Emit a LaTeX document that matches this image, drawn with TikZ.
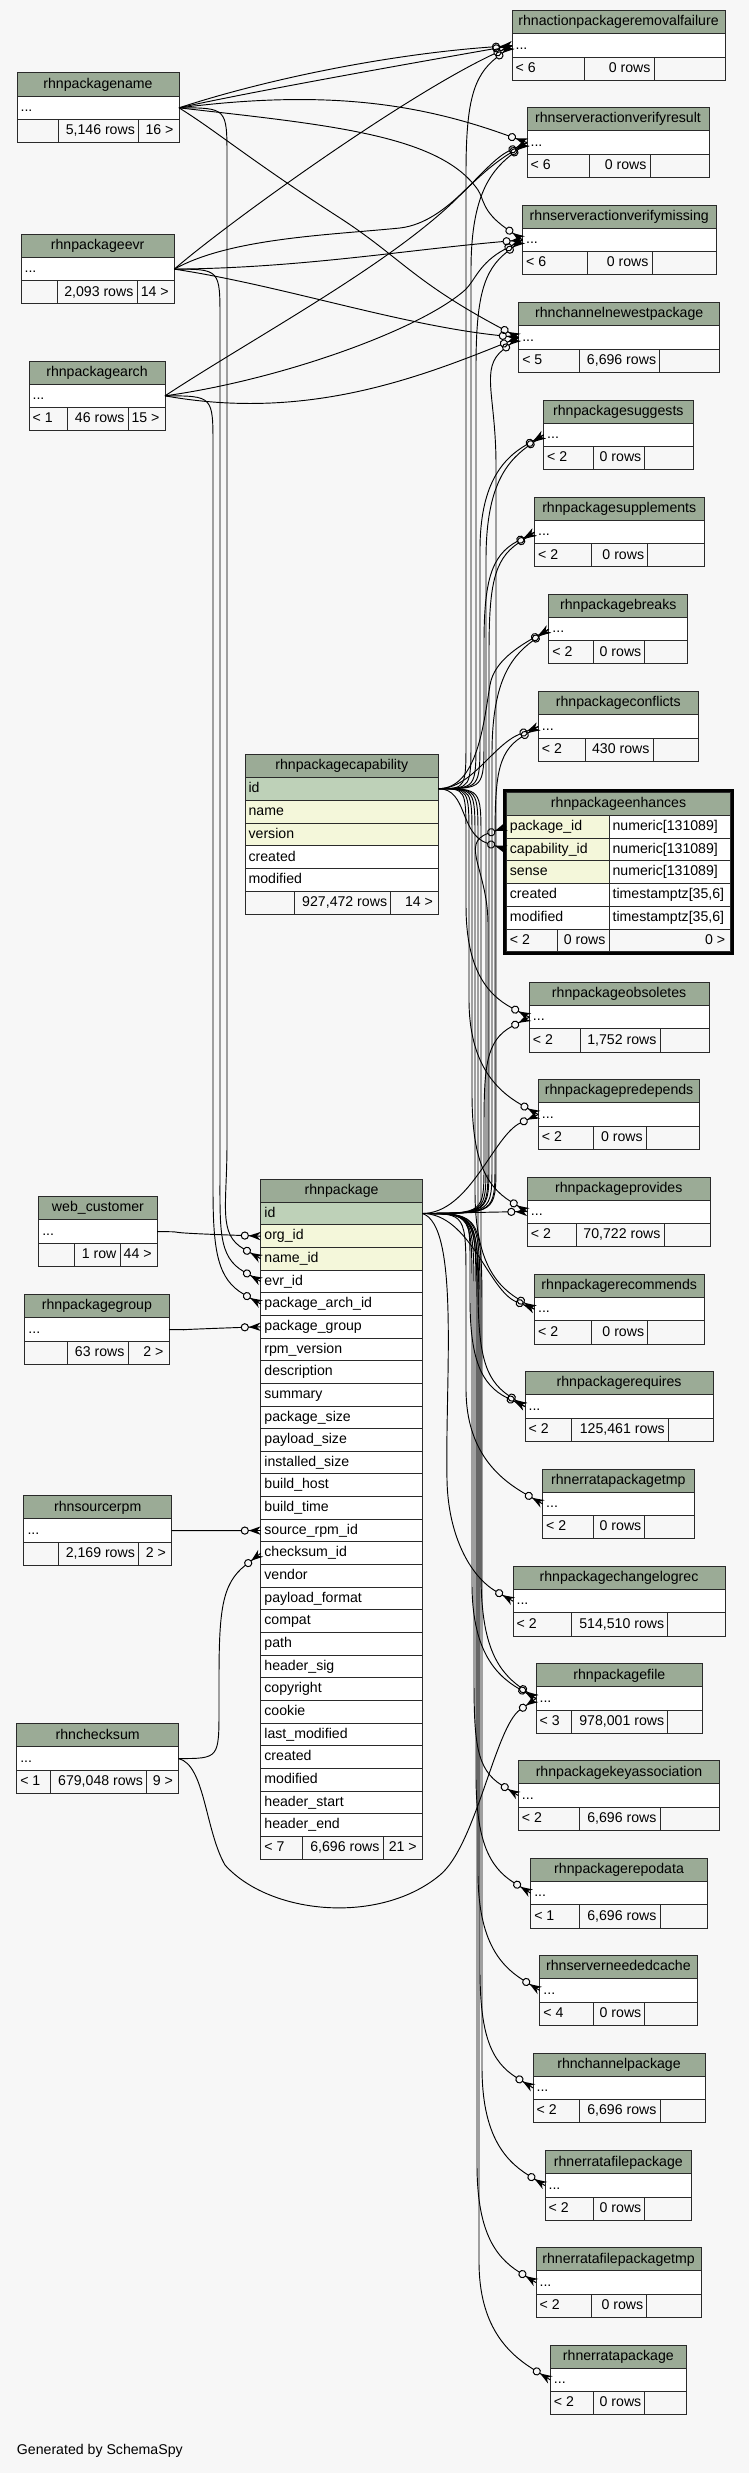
\documentclass[tikz,border=0pt]{standalone}
\usepackage{fontspec}
\setmainfont{Liberation Sans}
\definecolor{bgc}{HTML}{F7F7F7}
\definecolor{hdc}{HTML}{9BAB96}
\definecolor{pkc}{HTML}{BED1B8}
\definecolor{ixc}{HTML}{F4F7DA}
\definecolor{ftc}{HTML}{F7F7F7}
\definecolor{lnc}{HTML}{2A2A2A}
\tikzset{
  tx/.style={font=\fontsize{10.6pt}{12pt}\selectfont, inner sep=0pt, text height=7.7pt, text depth=2.2pt},
  cellbox/.style={draw=lnc, line width=0.75pt, inner sep=0pt, outer sep=0pt, anchor=north west},
  fk/.style={draw=black, line width=0.7pt},
}
\def\fh{23.23}
% generic cell (left aligned text)
\newcommand\cell[7]{%
  \node[cellbox, fill=#6, minimum width={(#4-#2)*0.75pt}, minimum height={(#5-#3)*0.75pt}] (#1) at (#2,#3) {};
  \node[tx, anchor=west] (#1-t) at ([xshift=2.5pt]#1.west) {#7};}
% header cell (centered text)
\newcommand\hcell[6]{%
  \node[cellbox, fill=hdc, minimum width={(#4-#2)*0.75pt}, minimum height={(#5-#3)*0.75pt}] (#1) at (#2,#3) {};
  \node[tx] (#1-t) at (#1.center) {#6};}
% footer row
\newcommand\tabfoot[9]{%
  \node[cellbox, fill=ftc, minimum width={(#5-#2)*0.75pt}, minimum height={\fh*0.75pt}] (#1-f1) at (#2,#3) {};
  \node[cellbox, fill=ftc, minimum width={(#6-#5)*0.75pt}, minimum height={\fh*0.75pt}] (#1-f2) at (#5,#3) {};
  \node[cellbox, fill=ftc, minimum width={(#4-#6)*0.75pt}, minimum height={\fh*0.75pt}] (#1-f3) at (#6,#3) {};
  \node[tx, anchor=west] (#1-f1t) at ([xshift=2.5pt]#1-f1.west) {#7};
  \node[tx, anchor=east] (#1-f2t) at ([xshift=-2.5pt]#1-f2.east) {#8};
  \node[tx, anchor=east] (#1-f3t) at ([xshift=-4pt]#1-f3.east) {#9};}
\newcommand\tabcore[5]{%
  \pgfmathsetmacro\ya{#3+23.23}\pgfmathsetmacro\yb{#3+46.46}%
  \hcell{#1-h}{#2}{#3}{#4}{\ya}{#5}%
  \cell{#1}{#2}{\ya}{#4}{\yb}{white}{...}}
\newcommand\rtab[9]{%
  \tabcore{#1}{#2}{#3}{#4}{#5}\pgfmathsetmacro\yft{#3+46.46}%
  \tabfoot{#1}{#2}{\yft}{#4}{#6}{#7}{#8}{#9}{}}
\newcommand\ltab[9]{%
  \tabcore{#1}{#2}{#3}{#4}{#5}\pgfmathsetmacro\yft{#3+46.46}%
  \tabfoot{#1}{#2}{\yft}{#4}{#6}{#7}{}{#8}{#9}}
% crow's foot with open circle (zero or many)
\newcommand\crow[3]{%
  \begin{scope}[shift={(#2)}, rotate=#3]
    \coordinate (#1-t) at (-19.6,0);
    \coordinate (#1-c) at (-49.6,0);
    \coordinate (#1-f) at (-119.6,0);
    \draw[line width=0.75pt] (-16,0) circle[radius=2.7pt];
    \fill (-12,0) -- (0,-4.3) -- (-4,0) -- (0,4.3) -- cycle;
    \draw[line width=0.75pt] (-12.4,0) -- (0,0);
  \end{scope}}
% edge running along a vertical corridor
\newcommand\fkedge[8][50]{%
  \crow{#8}{#5}{#7}%
  \pgfmathsetmacro\bs{sign(#6-#3)}%
  \pgfmathsetmacro\be{60+110*abs(sin(#7))}%
  \pgfmathsetmacro\bya{#3+\bs*#1}%
  \pgfmathsetmacro\byb{#6-\bs*\be}%
  \pgfmathsetmacro\byc{#6-\bs*\be*0.45}%
  \draw[fk] (#2) .. controls (#4,#3) and (#4,#3) .. (#4,\bya) -- (#4,\byb) .. controls (#4,\byc) and (#8-c) .. (#8-t);}
\begin{document}
\begin{tikzpicture}[x=0.75pt, y=-0.75pt]
\useasboundingbox (0,0) rectangle (749,2473);
\fill[bgc] (0,0) rectangle (749,2473);

% ---------- right tables ----------
\rtab{rapf}{512}{10.7}{725}{rhnactionpackageremovalfailure}{584}{654}{< 6}{0 rows}
\rtab{rsavr}{527}{107.7}{709}{rhnserveractionverifyresult}{589}{650}{< 6}{0 rows}
\rtab{rsavm}{522.5}{205}{716}{rhnserveractionverifymissing}{587.5}{652}{< 6}{0 rows}
\rtab{rcnp}{518.7}{302.7}{719.8}{rhnchannelnewestpackage}{579.4}{659.7}{< 5}{6,696 rows}
\rtab{sug}{543.6}{400}{693}{rhnpackagesuggests}{593.3}{644.9}{< 2}{0 rows}
\rtab{sup}{534.5}{497.3}{704}{rhnpackagesupplements}{591.8}{647.7}{< 2}{0 rows}
\rtab{brk}{548.8}{594.3}{687.8}{rhnpackagebreaks}{593.3}{644.9}{< 2}{0 rows}
\rtab{con}{538.3}{691.7}{698.3}{rhnpackageconflicts}{585.2}{653}{< 2}{430 rows}
\rtab{obs}{529.3}{982.3}{709}{rhnpackageobsoletes}{580}{660}{< 2}{1,752 rows}
\rtab{pre}{538.3}{1079.7}{699.8}{rhnpackagepredepends}{593.3}{646.3}{< 2}{0 rows}
\rtab{prov}{527.3}{1177}{710.3}{rhnpackageprovides}{576}{664}{< 2}{70,722 rows}
\rtab{rec}{534.5}{1274.3}{704}{rhnpackagerecommends}{591.8}{647.7}{< 2}{0 rows}
\rtab{req}{525}{1371.7}{713.2}{rhnpackagerequires}{571.8}{668.3}{< 2}{125,461 rows}
\rtab{ept}{542.6}{1469}{694}{rhnerratapackagetmp}{593.3}{644.9}{< 2}{0 rows}
\rtab{clr}{513}{1566.3}{725}{rhnpackagechangelogrec}{571.8}{667.8}{< 2}{514,510 rows}
\rtab{pfile}{536}{1663.7}{702.6}{rhnpackagefile}{571.3}{667.8}{< 3}{978,001 rows}
\rtab{pka}{518.3}{1760.7}{719.8}{rhnpackagekeyassociation}{579.4}{660}{< 2}{6,696 rows}
\rtab{repo}{530.7}{1858.3}{707.4}{rhnpackagerepodata}{579.4}{660}{< 1}{6,696 rows}
\rtab{snc}{539.8}{1955.6}{697}{rhnserverneededcache}{593.3}{644.9}{< 4}{0 rows}
\rtab{cp}{533}{2053}{705}{rhnchannelpackage}{579.4}{660}{< 2}{6,696 rows}
\rtab{efp}{545}{2150.7}{691.7}{rhnerratafilepackage}{593.3}{644.9}{< 2}{0 rows}
\rtab{efpt}{536}{2247.7}{701.2}{rhnerratafilepackagetmp}{591.8}{646.8}{< 2}{0 rows}
\rtab{ep}{550.3}{2345}{686.4}{rhnerratapackage}{593.3}{644.9}{< 2}{0 rows}

% ---------- left tables ----------
\ltab{rpname}{17}{73}{179}{rhnpackagename}{58}{138.5}{5,146 rows}{16 >}
\ltab{rpevr}{21}{234.3}{174.3}{rhnpackageevr}{57}{137}{2,093 rows}{14 >}
\ltab{rparch}{29}{361}{165}{rhnpackagearch}{67.8}{128}{46 rows}{15 >}
\node[tx, anchor=west] (rparch-lt) at ([xshift=2.5pt]rparch-f1.west) {< 1};
\ltab{webc}{38.7}{1196.7}{157.2}{web\_customer}{74.5}{120}{1 row}{44 >}
\ltab{rpgrp}{24.8}{1294.7}{169}{rhnpackagegroup}{67.8}{128}{63 rows}{2 >}
\ltab{srpm}{23.9}{1495.7}{171.5}{rhnsourcerpm}{58.3}{138.5}{2,169 rows}{2 >}
\ltab{chk}{16.7}{1723.7}{178.6}{rhnchecksum}{50.6}{146.6}{679,048 rows}{9 >}
\node[tx, anchor=west] (chk-lt) at ([xshift=2.5pt]chk-f1.west) {< 1};

% ---------- rhnpackagecapability ----------
\hcell{cap-h}{245}{754.3}{438.5}{777.2}{rhnpackagecapability}
\cell{cap-id}{245}{777.2}{438.5}{800.1}{pkc}{id}
\cell{cap-name}{245}{800.1}{438.5}{823}{ixc}{name}
\cell{cap-ver}{245}{823}{438.5}{845.9}{ixc}{version}
\cell{cap-cr}{245}{845.9}{438.5}{868.8}{white}{created}
\cell{cap-mod}{245}{868.8}{438.5}{891.7}{white}{modified}
\def\fh{22.9}
\tabfoot{cap}{245}{891.7}{438.5}{294.7}{390.7}{}{927,472 rows}{14 >}

% ---------- rhnpackageenhances ----------
\draw[line width=2.25pt, draw=black] (504.6,790.4) rectangle (732.1,953.9);
\hcell{e-h}{506.3}{792.7}{730.8}{815.4}{rhnpackageenhances}
\cell{e-pk}{506.3}{815.4}{609}{838.1}{ixc}{package\_id}
\cell{e-pkT}{609}{815.4}{730.8}{838.1}{white}{numeric[131089]}
\cell{e-cap}{506.3}{838.1}{609}{860.8}{ixc}{capability\_id}
\cell{e-capT}{609}{838.1}{730.8}{860.8}{white}{numeric[131089]}
\cell{e-sense}{506.3}{860.8}{609}{883.6}{ixc}{sense}
\cell{e-senseT}{609}{860.8}{730.8}{883.6}{white}{numeric[131089]}
\cell{e-cr}{506.3}{883.6}{609}{906.3}{white}{created}
\cell{e-crT}{609}{883.6}{730.8}{906.3}{white}{timestamptz[35,6]}
\cell{e-mod}{506.3}{906.3}{609}{929}{white}{modified}
\cell{e-modT}{609}{906.3}{730.8}{929}{white}{timestamptz[35,6]}
\def\fh{22.71}
\tabfoot{enh}{506.3}{929}{730.8}{557}{609}{< 2}{0 rows}{0 >}

% ---------- rhnpackage ----------
\hcell{p-h}{260.8}{1179.5}{422.3}{1202.15}{rhnpackage}
\foreach \nm/\lab/\fc [count=\i] in {id/id/pkc, org/org\_id/ixc, name/name\_id/ixc, evr/evr\_id/white, arch/package\_arch\_id/white, group/package\_group/white, rpmv/rpm\_version/white, desc/description/white, summ/summary/white, psize/package\_size/white, plsize/payload\_size/white, isize/installed\_size/white, bhost/build\_host/white, btime/build\_time/white, src/source\_rpm\_id/white, chk/checksum\_id/white, vend/vendor/white, pfmt/payload\_format/white, compat/compat/white, path/path/white, hsig/header\_sig/white, copy/copyright/white, cookie/cookie/white, lmod/last\_modified/white, cr/created/white, mod/modified/white, hstart/header\_start/white, hend/header\_end/white}
{ \pgfmathsetmacro\ra{1179.5+22.65*\i}\pgfmathsetmacro\rb{\ra+22.65}
  \cell{p-\nm}{260.8}{\ra}{422.3}{\rb}{\fc}{\lab} }
\def\fh{22.65}
\tabfoot{pk}{260.8}{1836.35}{422.3}{302.4}{383}{< 7}{6,696 rows}{21 >}

\node[tx, anchor=west] (gen) at (16.7,2451) {Generated by SchemaSpy};

% ---------- edges from rhnpackagename ----------
\crow{r1a}{rapf.west}{4}
\draw[fk] (rpname.east) .. controls (270,78) and (r1a-f) .. (r1a-t);
\crow{r1b}{rapf.west}{10}
\draw[fk] (rpname.east) .. controls (250,92) and (r1b-f) .. (r1b-t);
\crow{r2a}{rsavr.west}{-20}
\draw[fk] (rpname.east) .. controls (320,90) and (r2a-f) .. (r2a-t);
\crow{r3a}{rsavm.west}{-35}
\draw[fk] (rpname.east) .. controls (330,125) and (440,135) .. (478,190) .. controls (484,199) and (r3a-c) .. (r3a-t);
\crow{r4a}{rcnp.west}{-28}
\draw[fk] (rpname.east) .. controls (215,130) and (250,160) .. (340,218) .. controls (400,257) and (r4a-f) .. (r4a-t);
\fkedge{rpname.east}{107.8}{227}{p-name.west}{1258.8}{-30}{pn}

% ---------- edges from rhnpackageevr ----------
\crow{r1c}{rapf.west}{25}
\draw[fk] (rpevr.east) .. controls (225,225) and (r1c-f) .. (r1c-t);
\crow{r2b}{rsavr.west}{25}
\draw[fk] (rpevr.east) .. controls (230,238) and (330,235) .. (400,228) .. controls (450,222) and (r2b-c) .. (r2b-t);
\crow{r3b}{rsavm.west}{5}
\draw[fk] (rpevr.east) .. controls (300,268) and (r3b-f) .. (r3b-t);
\crow{r4b}{rcnp.west}{-6}
\draw[fk] (rpevr.east) .. controls (280,285) and (r4b-f) .. (r4b-t);
\fkedge{rpevr.east}{269.15}{220}{p-evr.west}{1281.4}{-30}{pe}

% ---------- edges from rhnpackagearch ----------
\crow{r2c}{rsavr.west}{32}
\draw[fk] (rparch.east) .. controls (250,340) and (380,270) .. (450,205) .. controls (466,190) and (r2c-c) .. (r2c-t);
\crow{r3c}{rsavm.west}{28}
\draw[fk] (rparch.east) .. controls (280,380) and (420,330) .. (465,290) .. controls (475,281) and (r3c-c) .. (r3c-t);
\crow{r4c}{rcnp.west}{22}
\draw[fk] (rparch.east) .. controls (300,420) and (r4c-f) .. (r4c-t);
\fkedge{rparch.east}{395.85}{213}{p-arch.west}{1304.1}{-30}{pa}

% ---------- edges from rhnpackagecapability ----------
\fkedge{cap-id.east}{788.65}{466}{rapf.west}{45.55}{38}{r1d}
\fkedge{cap-id.east}{788.65}{471}{rsavr.west}{142.55}{38}{r2d}
\fkedge{cap-id.east}{788.65}{476}{rsavm.west}{239.85}{38}{r3d}
\fkedge{cap-id.east}{788.65}{480}{sug.west}{434.85}{30}{sg1}
\fkedge{cap-id.east}{788.65}{484}{sup.west}{532.15}{28}{sp1}
\crow{bk1}{brk.west}{30}
\draw[fk] (cap-id.east) .. controls (478,788.65) and (484,720) .. (490,685) .. controls (493,668) and (bk1-c) .. (bk1-t);
\crow{cn1}{con.west}{22}
\draw[fk] (cap-id.east) .. controls (472,788.65) and (cn1-c) .. (cn1-t);
\crow{ec}{e-cap.west}{-18}
\draw[fk] (cap-id.east) .. controls (468,789) and (ec-c) .. (ec-t);
\fkedge{cap-id.east}{788.65}{466}{obs.west}{1017.15}{-28}{ob1}
\fkedge{cap-id.east}{788.65}{469}{pre.west}{1114.55}{-30}{pr1}
\fkedge{cap-id.east}{788.65}{472}{prov.west}{1211.85}{-32}{pv1}
\fkedge{cap-id.east}{788.65}{475}{rec.west}{1309.15}{-32}{rc1}
\fkedge{cap-id.east}{788.65}{478}{req.west}{1406.55}{-34}{rq1}
\fkedge{cap-id.east}{788.65}{481}{pfile.west}{1698.55}{-36}{pf1}

% ---------- edges from rhnpackage ----------
\fkedge{p-id.east}{1213.5}{496}{rcnp.west}{337.55}{38}{r4d}
\fkedge{p-id.east}{1213.5}{486}{sug.west}{434.85}{36}{sg2}
\fkedge{p-id.east}{1213.5}{489}{sup.west}{532.15}{34}{sp2}
\fkedge{p-id.east}{1213.5}{492}{brk.west}{629.15}{36}{bk2}
\fkedge{p-id.east}{1213.5}{495}{con.west}{726.55}{32}{cn2}
\fkedge{p-id.east}{1213.5}{488}{e-pk.west}{826.75}{20}{epk1}
\fkedge{p-id.east}{1213.5}{484}{obs.west}{1017.15}{28}{ob2}
\crow{pr2}{pre.west}{25}
\draw[fk] (p-id.east) .. controls (470,1213.5) and (pr2-c) .. (pr2-t);
\crow{pv2}{prov.west}{0}
\draw[fk] (p-id.east) -- (pv2-t);
\crow{rc2}{rec.west}{-22}
\draw[fk] (p-id.east) .. controls (470,1213.5) and (rc2-c) .. (rc2-t);
\fkedge{p-id.east}{1213.5}{470}{req.west}{1406.55}{-26}{rq2}
\fkedge[70]{p-id.east}{1213.5}{466}{ept.west}{1503.85}{-30}{et}
\crow{cl}{clr.west}{-30}
\draw[fk] (p-id.east) .. controls (460,1225) and (445,1380) .. (447,1480) .. controls (448,1535) and (cl-c) .. (cl-t);
\fkedge[80]{p-id.east}{1213.5}{472}{pfile.west}{1698.55}{-30}{pf2}
\fkedge[90]{p-id.east}{1213.5}{474}{pka.west}{1795.55}{-32}{ka}
\fkedge[90]{p-id.east}{1213.5}{476}{repo.west}{1893.15}{-32}{rp}
\fkedge[100]{p-id.east}{1213.5}{478}{snc.west}{1990.45}{-32}{sn}
\fkedge[100]{p-id.east}{1213.5}{480}{cp.west}{2087.85}{-32}{cpk}
\fkedge[110]{p-id.east}{1213.5}{482}{efp.west}{2185.55}{-32}{efk}
\fkedge[110]{p-id.east}{1213.5}{477}{efpt.west}{2282.55}{-32}{eftk}
\fkedge[120]{p-id.east}{1213.5}{479}{ep.west}{2379.85}{-32}{epk}

% ---------- edges from rhnchecksum ----------
\fkedge{chk.east}{1758.55}{219}{p-chk.west}{1553.2}{38}{pc}
\crow{pf3}{pfile.west}{35}
\draw[fk] (chk.east) .. controls (205,1765) and (205,1830) .. (225,1865) .. controls (270,1915) and (380,1925) .. (440,1875) .. controls (476,1845) and (pf3-c) .. (pf3-t);

% ---------- other parents ----------
\crow{og}{p-org.west}{-2}
\draw[fk] (webc.east) .. controls (200,1232) and (og-f) .. (og-t);
\crow{gp}{p-group.west}{2}
\draw[fk] (rpgrp.east) .. controls (210,1329.5) and (gp-f) .. (gp-t);
\crow{sr}{p-src.west}{0}
\draw[fk] (srpm.east) -- (sr-t);
\end{tikzpicture}
\end{document}
